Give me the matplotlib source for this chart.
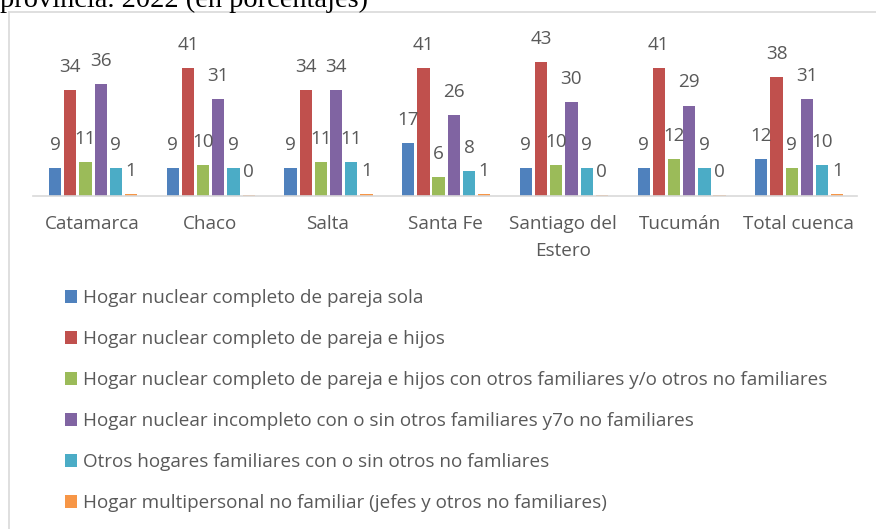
import numpy as np
import matplotlib.pyplot as plt
from matplotlib.patches import Patch
from matplotlib.lines import Line2D

# datos
provincias = ['Catamarca', 'Chaco', 'Salta', 'Santa Fe', 'Santiago del\nEstero', 'Tucumán', 'Total cuenca']

series = [
    'Hogar nuclear completo de pareja sola',
    'Hogar nuclear completo de pareja e hijos',
    'Hogar nuclear completo de pareja e hijos con otros familiares y/o otros no familiares',
    'Hogar nuclear incompleto con o sin otros familiares y7o no familiares',
    'Otros hogares familiares con o sin otros no famliares',
    'Hogar multipersonal no familiar (jefes y otros no familiares)',
]

pareja_sola = [9, 9, 9, 17, 9, 9, 12]
pareja_hijos = [34, 41, 34, 41, 43, 41, 38]
pareja_hijos_otros = [11, 10, 11, 6, 10, 12, 9]
incompleto = [36, 31, 34, 26, 30, 29, 31]
otros_familiares = [9, 9, 11, 8, 9, 9, 10]
multipersonal = [0.6, 0.4, 0.6, 0.6, 0.4, 0.4, 0.6]

valores = [pareja_sola, pareja_hijos, pareja_hijos_otros, incompleto, otros_familiares, multipersonal]
colores = ['#4F81BD', '#C0504D', '#9BBB59', '#8064A2', '#4BACC6', '#F79646']

W, H = 876, 529
fig = plt.figure(figsize=(W / 100, H / 100), dpi=100)
fig.patch.set_facecolor('white')

fuente = 'Open Sans'
gris = '#595959'
tam = 13.6

# titulo cortado arriba
fig.text(0, 1 - 7 / H, 'provincia. 2022 (en porcentajes)', family='Liberation Serif',
         fontsize=20.4, color='black', va='baseline', ha='left')

# marco del grafico
fig.add_artist(Line2D([9 / W, 9 / W], [0, 1 - 12 / H], color='#D9D9D9', lw=1.2, transform=fig.transFigure))
fig.add_artist(Line2D([9 / W, 1], [1 - 12 / H, 1 - 12 / H], color='#D9D9D9', lw=1.2, transform=fig.transFigure))

# ejes
x0, x1 = 33, 857
y_base, y_top = 196, 14
ax = fig.add_axes([x0 / W, 1 - y_base / H, (x1 - x0) / W, (y_base - y_top) / H])
ax.set_xlim(-0.5, len(provincias) - 0.5)
ax.set_ylim(0, (y_base - y_top) / 3.12)

x = np.arange(len(provincias))
paso = 0.129
ancho = 0.104
for k, (vals, col) in enumerate(zip(valores, colores)):
    pos = x + (k - 2.5) * paso + 0.01
    ax.bar(pos, vals, width=ancho, color=col, edgecolor='none')
    for p, v in zip(pos, vals):
        ax.annotate(f'{v:.0f}', (p, v), xytext=(0, 13), textcoords='offset points',
                    ha='center', va='baseline', fontsize=tam, color=gris, family=fuente)

for s in ['top', 'right', 'left']:
    ax.spines[s].set_visible(False)
ax.spines['bottom'].set_color('#D9D9D9')
ax.spines['bottom'].set_linewidth(1.2)
ax.set_yticks([])
ax.set_xticks(x)
ax.set_xticklabels(provincias, fontsize=tam, color=gris, family=fuente, linespacing=1.63)
ax.tick_params(axis='x', length=0, pad=14)
ax.set_facecolor('none')

# leyenda
handles = [Patch(facecolor=c, edgecolor='none') for c in colores]
leg = fig.legend(handles, series, loc='upper left', bbox_to_anchor=(65 / W, 1 - 289 / H),
                 frameon=False, prop={'family': fuente, 'size': tam}, labelcolor=gris,
                 handlelength=0.65, handleheight=0.65, handletextpad=0.3,
                 labelspacing=1.22, borderpad=0, borderaxespad=0)

fig.savefig('out.png', dpi=100)
